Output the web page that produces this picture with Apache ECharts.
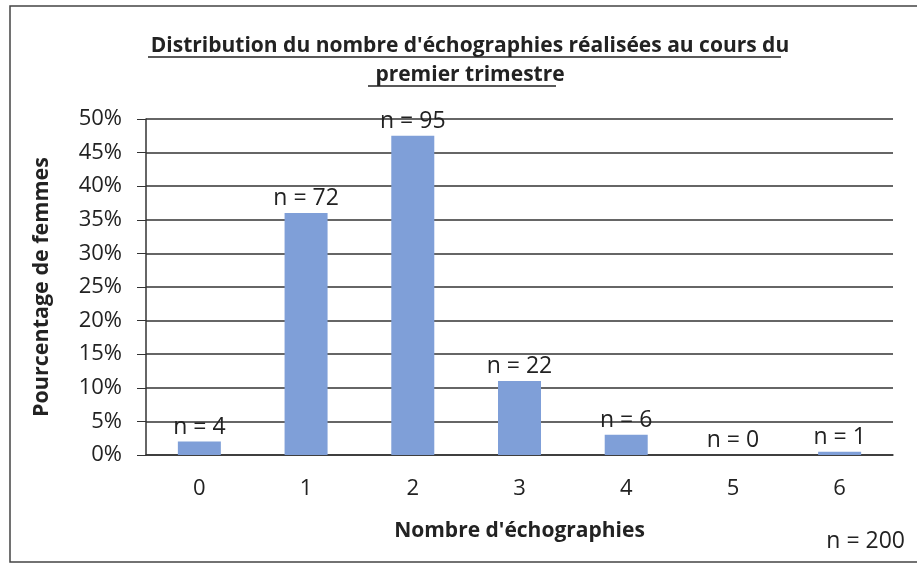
<!DOCTYPE html>
<html><head><meta charset="utf-8">
<script src="https://cdn.jsdelivr.net/npm/echarts@6/dist/echarts.min.js"></script>
<style>html,body{margin:0;padding:0;background:#fff}#c{width:917px;height:566px}</style>
</head><body><div id="c"></div>
<script>
const categories = ['0','1','2','3','4','5','6'];
const counts = [4, 72, 95, 22, 6, 0, 1];
const total = 200;
const percents = [2, 36, 47.5, 11, 3, 0, 0.5];
const yTicks = [0,5,10,15,20,25,30,35,40,45,50];
const titleLines = ["Distribution du nombre d'échographies réalisées au cours du", "premier trimestre"];

const FONT = '"Open Sans", Lato, sans-serif';
const chart = echarts.init(document.getElementById('c'));
chart.setOption({
  backgroundColor: '#fff',
  animation: false,
  title: {
    text: titleLines.join('\n'),
    left: 465, top: 27, textAlign: 'center',
    textStyle: { fontFamily: FONT, fontSize: 21, fontWeight: 'bold', color: '#222', lineHeight: 29 }
  },
  grid: { left: 146, right: 24, top: 119, bottom: 111 },
  xAxis: {
    type: 'category', data: categories,
    name: "Nombre d'échographies", nameLocation: 'middle', nameGap: 66,
    nameTextStyle: { fontFamily: FONT, fontSize: 21, fontWeight: 'bold', color: '#222' },
    axisLine: { lineStyle: { color: '#333', width: 1.5 } },
    axisTick: { show: false },
    axisLabel: { fontFamily: FONT, fontSize: 22, color: '#222', margin: 23 }
  },
  yAxis: {
    type: 'value', min: 0, max: 50, interval: 5,
    name: 'Pourcentage de femmes', nameLocation: 'middle', nameGap: 93,
    nameTextStyle: { fontFamily: FONT, fontSize: 21.5, fontWeight: 'bold', color: '#222' },
    axisLine: { show: true, lineStyle: { color: '#333', width: 1.5 } },
    axisTick: { show: true, length: 9, lineStyle: { color: '#333' } },
    axisLabel: { fontFamily: FONT, fontSize: 22, color: '#222', margin: 24, formatter: v => v + '%' },
    splitLine: { lineStyle: { color: '#333', width: 1.5 } }
  },
  series: [{
    type: 'bar',
    data: percents.map((p, i) => ({ value: p, count: counts[i] })),
    barWidth: 43,
    itemStyle: { color: '#7f9fd8' },
    label: {
      show: true, position: 'top', distance: 3,
      fontFamily: FONT, fontSize: 23, color: '#222',
      formatter: p => 'n = ' + counts[p.dataIndex]
    }
  }],
  graphic: [
    { type: 'rect', shape: { x: 10, y: 6, width: 920, height: 556 }, style: { fill: 'none', stroke: '#444', lineWidth: 1.5 }, silent: true },
    { type: 'line', shape: { x1: 148, y1: 57, x2: 781, y2: 57 }, style: { stroke: '#222', lineWidth: 1.5 } },
    { type: 'line', shape: { x1: 368, y1: 86, x2: 556, y2: 86 }, style: { stroke: '#222', lineWidth: 1.5 } },
    { type: 'text', right: 12, top: 530, style: { text: 'n = ' + total, font: '23px ' + FONT, fill: '#222' } }
  ]
});
</script></body></html>
